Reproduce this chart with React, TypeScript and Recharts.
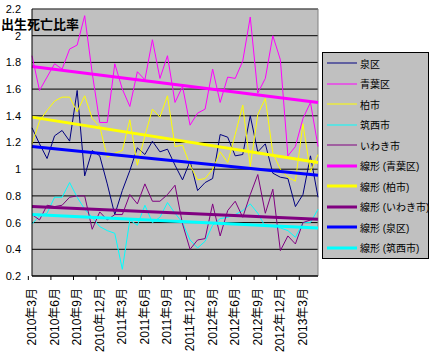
import { LineChart, Line, XAxis, YAxis, CartesianGrid, Legend } from "recharts"

const months = [
  "2010年3月", "2010年4月", "2010年5月", "2010年6月", "2010年7月", "2010年8月", "2010年9月", "2010年10月", "2010年11月", "2010年12月",
  "2011年1月", "2011年2月", "2011年3月", "2011年4月", "2011年5月", "2011年6月", "2011年7月", "2011年8月", "2011年9月", "2011年10月", "2011年11月", "2011年12月",
  "2012年1月", "2012年2月", "2012年3月", "2012年4月", "2012年5月", "2012年6月", "2012年7月", "2012年8月", "2012年9月", "2012年10月", "2012年11月", "2012年12月",
  "2013年1月", "2013年2月", "2013年3月", "2013年4月", "2013年5月",
]

const izumi = [1.31, 1.19, 1.08, 1.25, 1.29, 1.21, 1.59, 0.95, 1.14, 1.10, 0.89, 0.66, 0.84, 0.99, 1.16, 1.11, 1.21, 1.13, 1.15, 1.03, 0.92, 1.06, 0.84, 0.90, 0.93, 1.26, 1.24, 1.10, 1.11, 1.40, 1.13, 1.19, 0.97, 0.94, 0.93, 0.72, 0.81, 1.10, 0.79]
const aoba = [1.85, 1.59, 1.69, 1.79, 1.75, 1.90, 1.93, 2.15, 1.72, 1.35, 1.35, 1.79, 1.60, 1.47, 1.73, 1.67, 1.97, 1.68, 1.85, 1.50, 1.62, 1.33, 1.42, 1.45, 1.75, 1.50, 1.69, 1.68, 1.81, 2.14, 1.57, 1.68, 2.00, 1.82, 1.10, 1.17, 1.38, 1.50, 1.17]
const kashiwa = [1.19, 1.36, 1.44, 1.51, 1.54, 1.54, 1.43, 1.55, 1.38, 1.32, 1.09, 1.12, 1.14, 1.37, 1.03, 1.25, 1.45, 1.39, 1.55, 1.17, 1.18, 1.03, 0.92, 0.93, 1.00, 1.13, 1.05, 1.26, 1.48, 1.02, 1.41, 1.53, 1.12, 1.00, 0.94, 0.91, 1.34, 0.98, 1.11]
const chikusei = [0.59, 0.65, 0.67, 0.79, 0.79, 0.90, 0.79, 0.70, 0.64, 0.57, 0.54, 0.52, 0.25, 0.62, 0.58, 0.73, 0.60, 0.64, 0.75, 0.67, 0.60, 0.47, 0.41, 0.46, 0.58, 0.63, 0.64, 0.66, 0.69, 0.74, 0.67, 0.57, 0.57, 0.56, 0.54, 0.49, 0.60, 0.60, 0.70]
const iwaki = [0.66, 0.62, 0.73, 0.72, 0.73, 0.79, 0.80, 0.80, 0.55, 0.68, 0.62, 0.66, 0.66, 0.81, 0.74, 0.89, 0.76, 0.76, 0.81, 0.88, 0.59, 0.40, 0.47, 0.48, 0.74, 0.50, 0.69, 0.76, 0.64, 0.81, 0.96, 0.67, 0.85, 0.39, 0.50, 0.44, 0.60, 0.62, 0.63]

// trend lines: value at first and last month
const aobaTrend = [1.77, 1.5]
const kashiwaTrend = [1.39, 1.05]
const iwakiTrend = [0.72, 0.625]
const izumiTrend = [1.17, 0.955]
const chikuseiTrend = [0.66, 0.56]

const yTicks = [0.2, 0.4, 0.6, 0.8, 1.0, 1.2, 1.4, 1.6, 1.8, 2.0, 2.2]

const last = months.length - 1
const trendAt = (t: number[], i: number) => (i === 0 ? t[0] : i === last ? t[1] : null)

const data = months.map((m, i) => ({
  month: m,
  izumi: izumi[i],
  aoba: aoba[i],
  kashiwa: kashiwa[i],
  chikusei: chikusei[i],
  iwaki: iwaki[i],
  aobaTrend: trendAt(aobaTrend, i),
  kashiwaTrend: trendAt(kashiwaTrend, i),
  iwakiTrend: trendAt(iwakiTrend, i),
  izumiTrend: trendAt(izumiTrend, i),
  chikuseiTrend: trendAt(chikuseiTrend, i),
}))

const series = [
  { key: "izumi", name: "泉区", color: "#000080", width: 1 },
  { key: "aoba", name: "青葉区", color: "#FF00FF", width: 1 },
  { key: "kashiwa", name: "柏市", color: "#FFFF00", width: 1 },
  { key: "chikusei", name: "筑西市", color: "#00FFFF", width: 1 },
  { key: "iwaki", name: "いわき市", color: "#800080", width: 1 },
  { key: "aobaTrend", name: "線形 (青葉区)", color: "#FF00FF", width: 3 },
  { key: "kashiwaTrend", name: "線形 (柏市)", color: "#FFFF00", width: 3 },
  { key: "iwakiTrend", name: "線形 (いわき市)", color: "#800080", width: 3 },
  { key: "izumiTrend", name: "線形 (泉区)", color: "#0000FF", width: 3 },
  { key: "chikuseiTrend", name: "線形 (筑西市)", color: "#00FFFF", width: 3 },
]

const W = 432
const H = 361
const PLOT_LEFT = 32
const PLOT_TOP = 9
const PLOT_RIGHT = 318
const PLOT_BOTTOM = 276
const HALF_BAND = (PLOT_RIGHT - PLOT_LEFT) / months.length / 2
const FONT = '"Liberation Sans", "Noto Sans CJK JP", sans-serif'

const MonthTick = ({ x, y, payload }: any) => (
  <g>
    <line x1={x - HALF_BAND} x2={x - HALF_BAND} y1={y} y2={y + 4} stroke="#000" />
    <text
      transform={`translate(${x},${y + 12}) rotate(-90)`}
      textAnchor="end"
      dominantBaseline="central"
      fontSize={12}
      fontFamily={FONT}
      fill="#000"
    >
      {payload.value}
    </text>
  </g>
)

const renderLegend = () => (
  <div
    style={{
      width: 105,
      height: 205,
      border: "1px solid #000",
      background: "#C0C0C0",
      fontFamily: FONT,
      fontSize: 10,
      color: "#000",
    }}
  >
    {series.map((s) => (
      <div key={s.key} style={{ display: "flex", alignItems: "center", height: 20.5 }}>
        <svg width={37} height={10} style={{ flexShrink: 0 }}>
          <line x1={4} x2={34} y1={5} y2={5} stroke={s.color} strokeWidth={s.width} />
        </svg>
        <span style={{ whiteSpace: "nowrap" }}>{s.name}</span>
      </div>
    ))}
  </div>
)

export default function App() {
  return (
    <div style={{ position: "absolute", left: 0, top: 0, width: W, height: H, background: "#fff" }}>
      <LineChart
        width={W}
        height={H}
        data={data}
        margin={{ top: PLOT_TOP, right: W - PLOT_RIGHT, bottom: 0, left: 0 }}
      >
        <CartesianGrid fill="#C0C0C0" stroke="#000" vertical={false} />
        <CartesianGrid
          fill="none"
          stroke="#808080"
          horizontalCoordinatesGenerator={({ offset }: any) => [offset.top]}
          verticalCoordinatesGenerator={({ offset }: any) => [offset.left + offset.width]}
        />
        <XAxis
          dataKey="month"
          interval={2}
          height={H - PLOT_BOTTOM}
          axisLine={{ stroke: "#000" }}
          tickLine={false}
          tickSize={0}
          tickMargin={0}
          tick={<MonthTick />}
        />
        <YAxis
          width={PLOT_LEFT}
          domain={[0.2, 2.2]}
          ticks={yTicks}
          interval={0}
          axisLine={{ stroke: "#000" }}
          tickLine={false}
          tickSize={0}
          tickMargin={11}
          tickFormatter={(v: number) => String(Number(v.toFixed(1)))}
          tick={{ fontSize: 11, fill: "#000", fontFamily: FONT }}
        />
        {series.map((s) => (
          <Line
            key={s.key}
            type="linear"
            dataKey={s.key}
            name={s.name}
            stroke={s.color}
            strokeWidth={s.width}
            dot={false}
            activeDot={false}
            connectNulls
            isAnimationActive={false}
          />
        ))}
        <Legend
          layout="horizontal"
          verticalAlign="middle"
          width={107}
          height={207}
          content={renderLegend}
          wrapperStyle={{ left: 322, top: 52, width: 107, height: 207 }}
        />
      </LineChart>
      <div
        style={{
          position: "absolute",
          left: 1,
          top: 18,
          fontFamily: '"Noto Sans CJK JP", sans-serif',
          fontWeight: "bold",
          fontSize: 13,
          lineHeight: "12px",
          color: "#000",
          whiteSpace: "nowrap",
        }}
      >
        出生死亡比率
      </div>
    </div>
  )
}
